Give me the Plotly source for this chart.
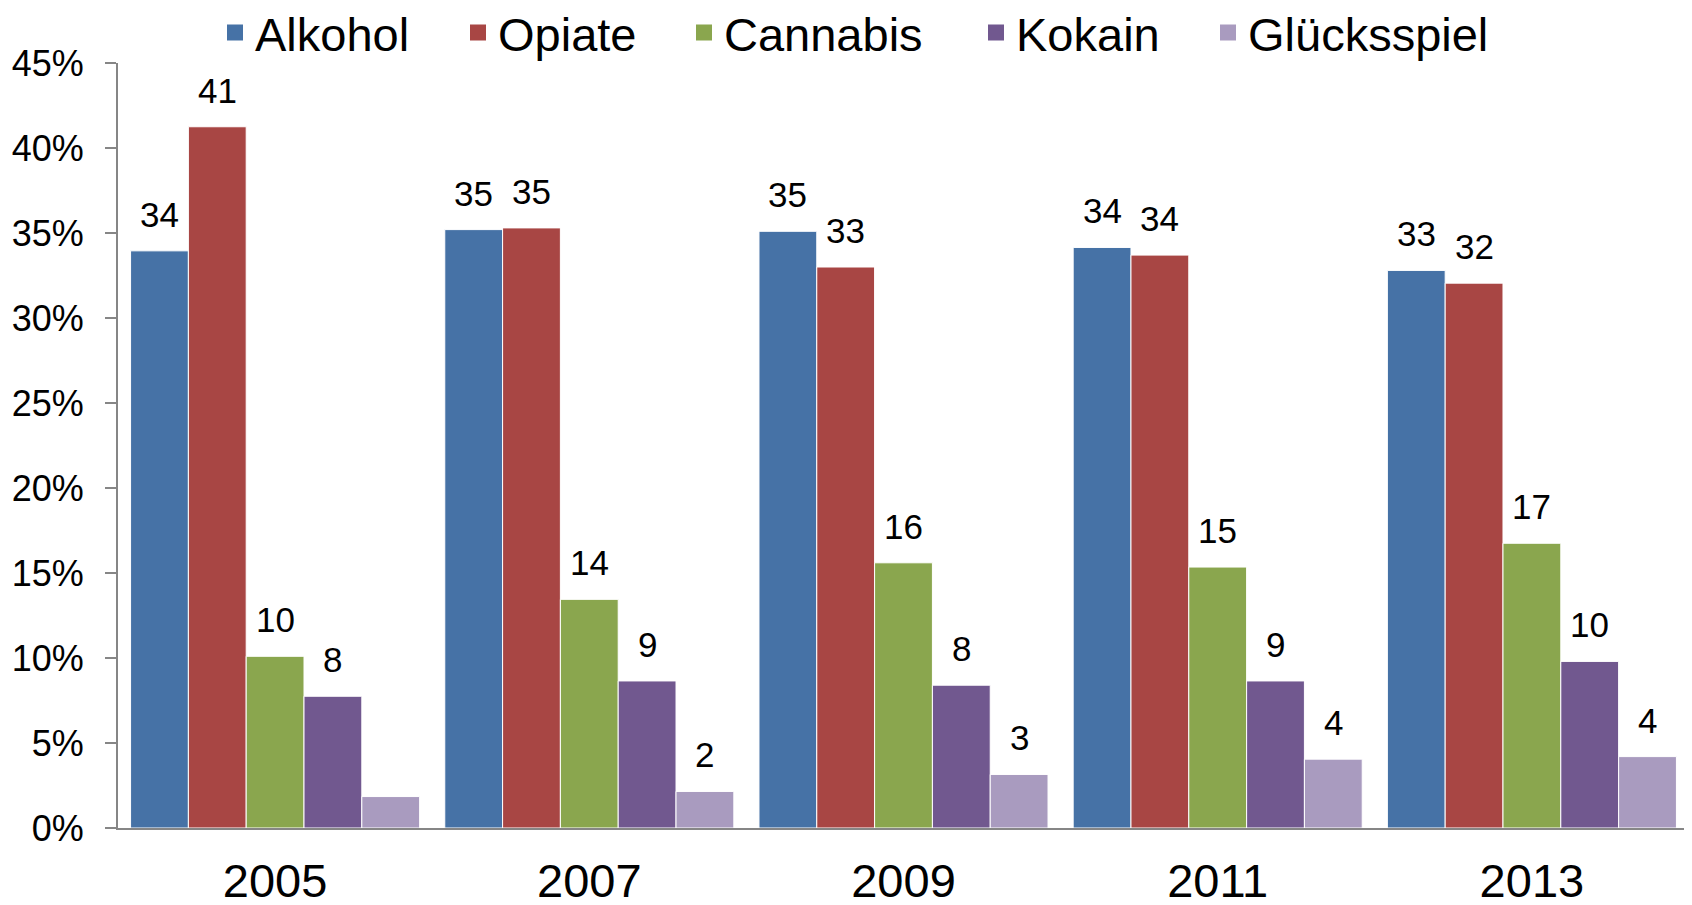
import plotly.graph_objects as go

years = ["2005", "2007", "2009", "2011", "2013"]
series_names = ["Alkohol", "Opiate", "Cannabis", "Kokain", "Glücksspiel"]
alkohol = [33.95, 35.2, 35.1, 34.15, 32.8]
opiate = [41.25, 35.3, 33.0, 33.7, 32.05]
cannabis = [10.1, 13.45, 15.6, 15.35, 16.75]
kokain = [7.75, 8.65, 8.4, 8.65, 9.8]
gluecksspiel = [1.85, 2.15, 3.15, 4.05, 4.2]
labels_alkohol = ["34", "35", "35", "34", "33"]
labels_opiate = ["41", "35", "33", "34", "32"]
labels_cannabis = ["10", "14", "16", "15", "17"]
labels_kokain = ["8", "9", "8", "9", "10"]
labels_gluecksspiel = ["", "2", "3", "4", "4"]
y_ticks = [0, 5, 10, 15, 20, 25, 30, 35, 40, 45]
y_tick_labels = ["0%", "5%", "10%", "15%", "20%", "25%", "30%", "35%", "40%", "45%"]

colors = ["#4672A6", "#A84644", "#8AA64E", "#71588F", "#A99BBF"]
values = [alkohol, opiate, cannabis, kokain, gluecksspiel]
labels = [labels_alkohol, labels_opiate, labels_cannabis, labels_kokain, labels_gluecksspiel]
legend_left_px = [207, 450, 676, 968, 1200]

FONT = "Liberation Sans, Arial, sans-serif"
W, H = 1692, 905
BARGAP = 0.08
n = len(series_names)
bar_w = (1 - BARGAP) / n

fig = go.Figure()
annotations = []
legend_layouts = {}
for i, (name, vals, labs, col) in enumerate(zip(series_names, values, labels, colors)):
    fig.add_trace(go.Bar(
        name=name, x=list(range(len(years))), y=vals,
        marker=dict(color=col, line=dict(color="white", width=1)),
        showlegend=False,
    ))
    lg = "legend" if i == 0 else f"legend{i+1}"
    fig.add_trace(go.Scatter(
        name=name, x=[None], y=[None], mode="markers",
        marker=dict(symbol="square", size=20, color=col),
        legend=lg, showlegend=True,
    ))
    legend_layouts[lg] = dict(
        x=legend_left_px[i] / W, xref="container", xanchor="left",
        y=1 - 25 / H, yref="container", yanchor="middle",
        font=dict(family=FONT, size=47, color="black"),
        bgcolor="rgba(0,0,0,0)", borderwidth=0, itemwidth=30,
    )
    offset = (i - (n - 1) / 2) * bar_w
    for j, (v, t) in enumerate(zip(vals, labs)):
        if t:
            annotations.append(dict(
                x=j + offset, y=v, xref="x", yref="y", text=t, showarrow=False,
                yanchor="bottom", yshift=15,
                font=dict(family=FONT, size=35, color="black"),
            ))

fig.update_layout(
    width=W, height=H,
    barmode="group", bargap=BARGAP, bargroupgap=0,
    plot_bgcolor="white", paper_bgcolor="white",
    margin=dict(l=110, r=11, t=55, b=85, autoexpand=False),
    annotations=annotations,
    yaxis=dict(
        range=[0, 45], tickvals=y_ticks, ticktext=y_tick_labels,
        showgrid=False, zeroline=False, automargin=False,
        showline=True, linecolor="#868686", linewidth=2,
        ticks="outside", ticklen=11, tickcolor="#868686", tickwidth=2,
        ticklabelstandoff=14,
        tickfont=dict(family=FONT, size=36, color="black"),
    ),
    xaxis=dict(
        range=[-0.5, len(years) - 0.5],
        tickvals=list(range(len(years))), ticktext=years,
        showline=True, linecolor="#868686", linewidth=2,
        ticks="", showgrid=False, zeroline=False, automargin=False,
        ticklabelstandoff=11,
        tickfont=dict(family=FONT, size=47, color="black"),
    ),
    **legend_layouts,
)

fig.write_html("out.html")
